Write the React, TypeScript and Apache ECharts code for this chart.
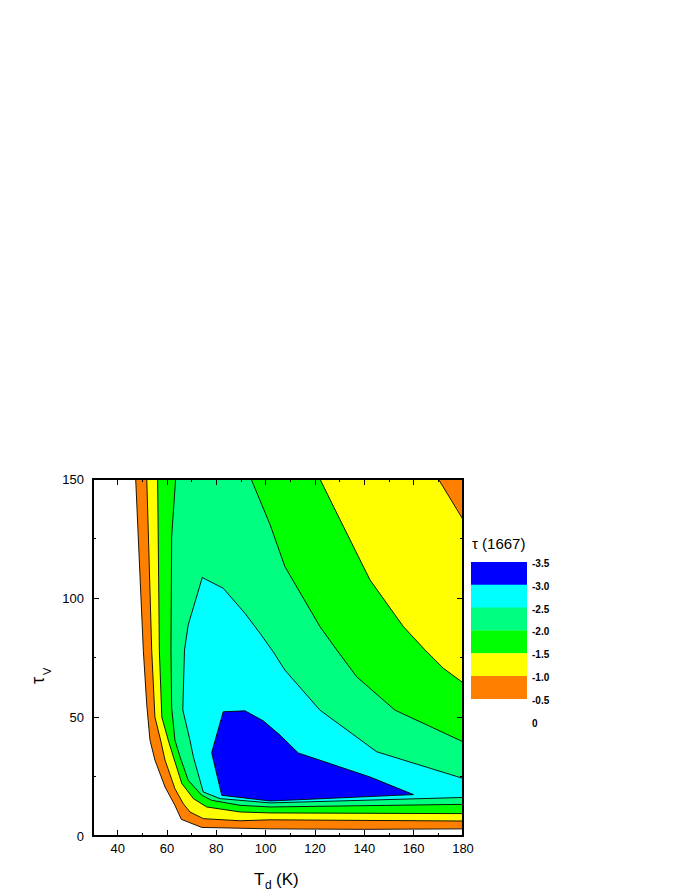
import React, { useEffect, useRef } from "react";
import * as echarts from "echarts";

// ---- axis ticks ----
const X_MAJOR = [40, 60, 80, 100, 120, 140, 160, 180];
const X_MINOR = [50, 70, 90, 110, 130, 150, 170];

// ---- colour scale (tau(1667) levels) ----
const LEVELS = [-3.5, -3.0, -2.5, -2.0, -1.5, -1.0, -0.5, 0];
const BAND_COLORS = ["#0000ff", "#00ffff", "#00ff80", "#00ff00", "#ffff00", "#ff8000", "#ffffff"];

// ---- contour lines, [T_d (K), tau_V] ----
// -0.5 level (white / orange), left branch
const C05 = [[47.3, 150], [50.4, 78], [51.8, 55], [53.1, 40.3], [55.1, 31.9], [59.2, 20.6], [63.2, 12.9], [65.8, 7.0], [74.1, 3.6], [101.8, 3.0], [140, 2.8], [180, 3.0]];
// -1.0 level (orange / yellow), left branch and top-right corner
const C10 = [[51.8, 150], [53.8, 78], [55.1, 50], [57.4, 40.3], [59.2, 31.9], [63.2, 19.9], [66.6, 13.6], [69.3, 10.1], [74.7, 7.3], [89.6, 6.4], [101.8, 6.8], [180, 6.3]];
const C10_TR = [[180, 133], [170, 150]];
// -1.5 level (yellow / green)
const C15 = [[56.2, 150], [56.9, 78], [57.9, 50], [60.5, 40.3], [62.6, 33.2], [66.0, 22.1], [70.7, 15.7], [76.1, 12.2], [89.6, 10.1], [101.8, 9.7], [180, 9.4]];
const C15_TR = [[122.0, 150], [128.8, 135.7], [142.3, 107.6], [155.8, 88.0], [164.6, 78.2], [172.0, 70.5], [180, 64.4]];
// -2.0 level (green / spring green)
const C20 = [[63.5, 150], [61.9, 126], [61.6, 78], [61.9, 54], [63.2, 40.3], [65.3, 33.2], [68.6, 23.4], [74.1, 17.1], [78.1, 15.0], [89.6, 12.9], [101.8, 12.2], [180, 13.3]];
const C20_TR = [[94.1, 150], [101.8, 130.8], [107.8, 113.2], [122.0, 88.0], [128.8, 78.2], [136.9, 66.9], [152.4, 52.9], [180, 39.6]];
// -2.5 level (spring green / cyan), closed on the right edge
const C25 = [[180, 24.2], [145.0, 35.4], [122.0, 52.9], [107.8, 69.7], [103.0, 77.5], [97.7, 85.2], [91.6, 93.6], [82.8, 104.1], [74.3, 108.6], [68.6, 88.7], [67.1, 78.2], [66.4, 53.0], [69.3, 40.3], [70.7, 33.2], [74.7, 18.5], [81.5, 15.7], [89.6, 15.0], [101.8, 13.9], [180, 16.2]];
// -3.0 level (cyan / blue), closed
const C30 = [[82.8, 52.2], [91.6, 52.6], [99.0, 48.4], [105.8, 42.4], [113.2, 34.9], [142.3, 24.8], [159.9, 17.4], [101.8, 14.7], [89.6, 16.2], [82.2, 17.1], [78.1, 35.0]];

// regions below each level, from the outermost (orange) to the innermost (blue)
const REGIONS = [
  { color: BAND_COLORS[5], pts: [...C05, [180, 150]] },
  { color: BAND_COLORS[4], pts: [...C10, ...C10_TR] },
  { color: BAND_COLORS[3], pts: [...C15, ...[...C15_TR].reverse()] },
  { color: BAND_COLORS[2], pts: [...C20, ...[...C20_TR].reverse()] },
  { color: BAND_COLORS[1], pts: C25 },
  { color: BAND_COLORS[0], pts: C30 },
];

const FONT = "'Liberation Sans', Arial, Helvetica, sans-serif";

export default function App() {
  const ref = useRef<HTMLDivElement>(null);

  useEffect(() => {
    if (!ref.current) return;
    const chart = echarts.init(ref.current, null, { renderer: "svg" });

    const gridLeft = 93, gridTop = 479, gridW = 370, gridH = 357;

    const tickStyle = { color: "#000", width: 1 };
    const lineStyle = { color: "#000", width: 2 };
    const xBase = { type: "value", min: 30, max: 180, gridIndex: 0, z: 10, splitLine: { show: false } } as any;

    const xAxes = [
      { ...xBase, position: "bottom", axisLine: { show: true, lineStyle },
        axisTick: { show: true, inside: true, length: 6, lineStyle: tickStyle, customValues: X_MAJOR },
        axisLabel: { show: true, customValues: X_MAJOR, fontSize: 13, color: "#000", fontFamily: FONT, margin: 6 } },
      { ...xBase, position: "bottom", axisLine: { show: false },
        axisTick: { show: true, inside: true, length: 3, lineStyle: tickStyle, customValues: X_MINOR },
        axisLabel: { show: false } },
      { ...xBase, position: "top", axisLine: { show: true, lineStyle },
        axisTick: { show: true, inside: true, length: 6, lineStyle: tickStyle, customValues: X_MAJOR },
        axisLabel: { show: false } },
      { ...xBase, position: "top", axisLine: { show: false },
        axisTick: { show: true, inside: true, length: 3, lineStyle: tickStyle, customValues: X_MINOR },
        axisLabel: { show: false } },
    ];
    const yBase = { type: "value", min: 0, max: 150, interval: 50, gridIndex: 0, z: 10, splitLine: { show: false },
      minorTick: { show: true, splitNumber: 2, length: 3, lineStyle: tickStyle } } as any;
    const yAxes = [
      { ...yBase, position: "left", axisLine: { show: true, lineStyle },
        axisTick: { show: true, inside: true, length: 6, lineStyle: tickStyle },
        axisLabel: { show: true, fontSize: 13, color: "#000", fontFamily: FONT, margin: 9 } },
      { ...yBase, position: "right", axisLine: { show: true, lineStyle },
        axisTick: { show: true, inside: true, length: 6, lineStyle: tickStyle },
        axisLabel: { show: false } },
    ];

    // colour bar built from the levels
    const cbLeft = 471, cbTop = 562, cbW = 56, cbH = 22.8;
    const cbEls: any[] = [];
    BAND_COLORS.slice(0, 6).forEach((c, i) => {
      cbEls.push({ type: "rect", shape: { x: cbLeft, y: cbTop + i * cbH, width: cbW, height: cbH + 0.3 }, style: { fill: c } });
    });
    LEVELS.forEach((lv, i) => {
      cbEls.push({
        type: "text", x: cbLeft + cbW + 5, y: cbTop + i * cbH + 1.5,
        style: { text: lv === 0 ? "0" : lv.toFixed(1), fontSize: 10, fontWeight: "bold", fontFamily: FONT, fill: "#000", verticalAlign: "middle", align: "left" },
      });
    });
    cbEls.push({ type: "text", x: 472, y: 543, style: { text: "\u03c4 (1667)", fontSize: 15, fontFamily: FONT, fill: "#000", verticalAlign: "middle" } });

    // axis titles
    const titles: any[] = [
      { type: "text", x: 254, y: 879, style: { text: "T", fontSize: 17, fontFamily: FONT, fill: "#000", verticalAlign: "middle" } },
      { type: "text", x: 265, y: 885, style: { text: "d", fontSize: 12, fontFamily: FONT, fill: "#000", verticalAlign: "middle" } },
      { type: "text", x: 276, y: 879, style: { text: "(K)", fontSize: 17, fontFamily: FONT, fill: "#000", verticalAlign: "middle" } },
      {
        type: "group", x: 38, y: 684, rotation: Math.PI / 2,
        children: [
          { type: "text", x: 0, y: 0, style: { text: "\u03c4", fontSize: 18, fontFamily: FONT, fill: "#000", verticalAlign: "middle" } },
          { type: "text", x: 9, y: 9, style: { text: "V", fontSize: 11, fontFamily: FONT, fill: "#000", verticalAlign: "middle" } },
        ],
      },
    ];

    chart.setOption({
      animation: false,
      backgroundColor: "#fff",
      grid: { left: gridLeft, top: gridTop, width: gridW, height: gridH, show: false },
      xAxis: xAxes,
      yAxis: yAxes,
      series: [
        {
          type: "custom",
          coordinateSystem: "cartesian2d",
          xAxisIndex: 0,
          yAxisIndex: 0,
          clip: true,
          data: REGIONS.map((_, i) => [i]),
          renderItem: (params: any, api: any) => {
            const reg = REGIONS[params.dataIndex];
            const pts = reg.pts.map((p) => api.coord(p));
            return {
              type: "polygon",
              shape: { points: pts },
              style: { fill: reg.color, stroke: "#000", lineWidth: 0.9 },
            };
          },
        },
      ],
      graphic: [...cbEls, ...titles],
    });

    return () => chart.dispose();
  }, []);

  return <div ref={ref} style={{ width: 692, height: 896, position: "absolute", left: 0, top: 0 }} />;
}
